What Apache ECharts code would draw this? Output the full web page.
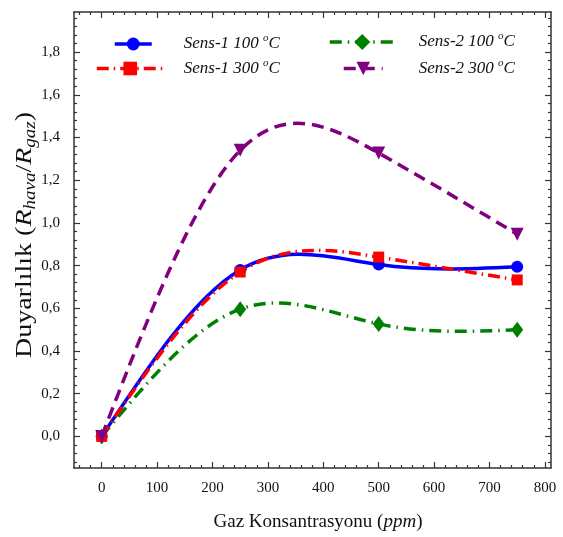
<!DOCTYPE html>
<html><head><meta charset="utf-8">
<script src="https://cdn.jsdelivr.net/npm/echarts@6/dist/echarts.min.js"></script>
<style>html,body{margin:0;padding:0;background:#fff}#c{width:563px;height:537px}</style>
</head><body><div id="c"></div>
<script>
// ---- data ----
const xValues = [0, 250, 500, 750];
const sens1_100 = [0, 0.78, 0.805, 0.795];
const sens1_300 = [0, 0.77, 0.84, 0.733];
const sens2_100 = [0, 0.596, 0.527, 0.50];
const sens2_300 = [0, 1.34, 1.327, 0.947];
const seriesNames = ['Sens-1 100 °C', 'Sens-1 300 °C', 'Sens-2 100 °C', 'Sens-2 300 °C'];
const legendTexts = ['Sens-1 100 ', 'Sens-1 300 ', 'Sens-2 100 ', 'Sens-2 300 '];
const xMajorTicks = [0, 100, 200, 300, 400, 500, 600, 700, 800];
const yMajorTicks = [0, 0.2, 0.4, 0.6, 0.8, 1.0, 1.2, 1.4, 1.6, 1.8];
const xMinorTicks = [];
for (let v = -40; v <= 800; v += 20) if (v % 100 !== 0) xMinorTicks.push(v);
const yMinorTicks = [];
for (let k = -3; k <= 49; k++) if (k % 5 !== 0) yMinorTicks.push(Math.round(k * 4) / 100);

const FONT = 'Liberation Serif';
const AX = '#333';
const X_MIN = -50, X_MAX = 811, Y_MIN = -0.148, Y_MAX = 1.988;

function pairs(ys) { return xValues.map((x, i) => [x, ys[i]]); }

function mkX(pos, ticks, len, main) {
  return {
    type: 'value', position: pos, min: X_MIN, max: X_MAX, gridIndex: 0,
    splitLine: { show: false },
    axisLine: { show: main, onZero: false, lineStyle: { color: AX, width: 1.5 } },
    axisTick: { show: true, inside: true, length: len, customValues: ticks, lineStyle: { color: AX, width: 1.2 } },
    axisLabel: pos === 'bottom' && main ? { show: true, customValues: xMajorTicks, margin: 13,
      color: '#111', fontFamily: FONT, fontSize: 15, formatter: v => String(Math.round(v)) } : { show: false }
  };
}
function mkY(pos, ticks, len, main) {
  return {
    type: 'value', position: pos, min: Y_MIN, max: Y_MAX, gridIndex: 0,
    splitLine: { show: false },
    axisLine: { show: main, onZero: false, lineStyle: { color: AX, width: 1.5 } },
    axisTick: { show: true, inside: true, length: len, customValues: ticks, lineStyle: { color: AX, width: 1.2 } },
    axisLabel: pos === 'left' && main ? { show: true, customValues: yMajorTicks, margin: 14,
      color: '#111', fontFamily: FONT, fontSize: 15, formatter: v => v.toFixed(1).replace('.', ',') } : { show: false }
  };
}

const styles = [
  { color: '#0000ff', dash: 'solid', symbol: 'circle', size: 12, rot: 0, z: 2 },
  { color: '#ff0000', dash: [12, 5, 1.5, 5], symbol: 'rect', size: 11, rot: 0, z: 4 },
  { color: '#008000', dash: [12, 6, 1.5, 6], symbol: 'diamond', size: [12, 16], rot: 0, z: 3 },
  { color: '#800080', dash: [12, 7], symbol: 'triangle', size: 13, rot: 180, z: 5 }
];
const dataSets = [sens1_100, sens1_300, sens2_100, sens2_300];
const LW = 3.5;

// natural cubic spline through the data points; returns bezier segments in data space
function splineSegments(xs, ys) {
  const n = xs.length, h = [], M = new Array(n).fill(0);
  for (let i = 0; i < n - 1; i++) h.push(xs[i + 1] - xs[i]);
  const a = [], b = [], c = [], r = [];
  for (let i = 1; i < n - 1; i++) {
    a.push(h[i - 1]); b.push(2 * (h[i - 1] + h[i])); c.push(h[i]);
    r.push(6 * ((ys[i + 1] - ys[i]) / h[i] - (ys[i] - ys[i - 1]) / h[i - 1]));
  }
  const m = b.length;
  for (let i = 1; i < m; i++) {
    const w = a[i] / b[i - 1];
    b[i] -= w * c[i - 1]; r[i] -= w * r[i - 1];
  }
  const sol = new Array(m);
  for (let i = m - 1; i >= 0; i--) sol[i] = (r[i] - (i < m - 1 ? c[i] * sol[i + 1] : 0)) / b[i];
  for (let i = 0; i < m; i++) M[i + 1] = sol[i];
  const segs = [];
  for (let i = 0; i < n - 1; i++) {
    const s = (ys[i + 1] - ys[i]) / h[i];
    const d0 = s - h[i] * (2 * M[i] + M[i + 1]) / 6;
    const d1 = s + h[i] * (M[i] + 2 * M[i + 1]) / 6;
    segs.push([[xs[i] + h[i] / 3, ys[i] + d0 * h[i] / 3],
               [xs[i + 1] - h[i] / 3, ys[i + 1] - d1 * h[i] / 3],
               [xs[i + 1], ys[i + 1]]]);
  }
  return segs;
}

const curveSeries = dataSets.map((d, i) => ({
  name: '_curve' + i, type: 'custom', coordinateSystem: 'cartesian2d',
  xAxisIndex: 0, yAxisIndex: 0, z: styles[i].z, silent: true,
  data: pairs(d),
  renderItem: function (params, api) {
    if (params.dataIndex !== 0) return null;
    const p0 = api.coord([xValues[0], d[0]]);
    let path = 'M' + p0[0] + ' ' + p0[1];
    splineSegments(xValues, d).forEach(seg => {
      const q = seg.map(pt => api.coord(pt));
      path += ' C' + q[0][0] + ' ' + q[0][1] + ' ' + q[1][0] + ' ' + q[1][1] + ' ' + q[2][0] + ' ' + q[2][1];
    });
    return {
      type: 'path',
      shape: { pathData: path },
      style: { fill: 'none', stroke: styles[i].color, lineWidth: LW,
               lineDash: styles[i].dash === 'solid' ? null : styles[i].dash }
    };
  }
}));

const markSeries = dataSets.map((d, i) => ({
  name: seriesNames[i], type: 'line', data: pairs(d),
  xAxisIndex: 0, yAxisIndex: 0, z: 10 + styles[i].z,
  symbol: styles[i].symbol, symbolSize: styles[i].size, symbolRotate: styles[i].rot,
  lineStyle: { color: styles[i].color, width: LW, type: styles[i].dash, opacity: 0 },
  itemStyle: { color: styles[i].color }
}));

const legendPos = [
  { left: 113, y: 41, w: 37, h: 16, pad: 27 },
  { left: 95, y: 66, w: 67, h: 17, pad: 15 },
  { left: 328, y: 41, w: 65, h: 20, pad: 19 },
  { left: 342, y: 66, w: 39, h: 17, pad: 31 }
];
const legends = legendPos.map((p, i) => ({
  data: [seriesNames[i]], left: p.left, top: p.y - p.h / 2, padding: 0,
  itemWidth: p.w, itemHeight: p.h, selectedMode: false,
  lineStyle: { color: styles[i].color, width: LW, type: styles[i].dash, opacity: 1 },
  formatter: () => '{t0|' + legendTexts[i] + '}{s|o}{t|C}',
  textStyle: {
    rich: {
      t0: { fontFamily: FONT, fontStyle: 'italic', fontSize: 17, color: '#111', lineHeight: 22, padding: [0, 0, 0, p.pad] },
      t: { fontFamily: FONT, fontStyle: 'italic', fontSize: 17, color: '#111', lineHeight: 22 },
      s: { fontFamily: FONT, fontStyle: 'italic', fontSize: 11, color: '#111', lineHeight: 10, verticalAlign: 'top' }
    }
  }
}));

const chart = echarts.init(document.getElementById('c'), null, { renderer: 'canvas' });
chart.setOption({
  animation: false,
  backgroundColor: '#fff',
  grid: { left: 74, top: 12, width: 477, height: 456, containLabel: false },
  xAxis: [mkX('bottom', xMajorTicks, 6, true), mkX('bottom', xMinorTicks, 3, false),
          mkX('top', xMajorTicks, 6, true), mkX('top', xMinorTicks, 3, false)],
  yAxis: [mkY('left', yMajorTicks, 6, true), mkY('left', yMinorTicks, 3, false),
          mkY('right', yMajorTicks, 6, true), mkY('right', yMinorTicks, 3, false)],
  legend: legends,
  series: curveSeries.concat(markSeries),
  graphic: [
    {
      type: 'text', x: 318, y: 522,
      style: {
        text: '{n|Gaz Konsantrasyonu (}{i|ppm}{n|)}', align: 'center', verticalAlign: 'middle',
        rich: {
          n: { fontFamily: FONT, fontSize: 19, fill: '#111' },
          i: { fontFamily: FONT, fontSize: 19, fontStyle: 'italic', fill: '#111' }
        }
      }
    },
    {
      type: 'text', x: 25, y: 235, rotation: Math.PI / 2, scaleX: 1, scaleY: 0.85,
      style: {
        text: '{n|Duyarlılık (}{i|R}{s|hava}{n|/}{i|R}{s|gaz}{n|)}', align: 'center', verticalAlign: 'middle',
        rich: {
          n: { fontFamily: FONT, fontSize: 28, lineHeight: 32, fill: '#111' },
          i: { fontFamily: FONT, fontSize: 28, fontStyle: 'italic', lineHeight: 32, fill: '#111' },
          s: { fontFamily: FONT, fontSize: 19, fontStyle: 'italic', lineHeight: 19, verticalAlign: 'bottom', fill: '#111' }
        }
      }
    }
  ]
});
</script></body></html>
